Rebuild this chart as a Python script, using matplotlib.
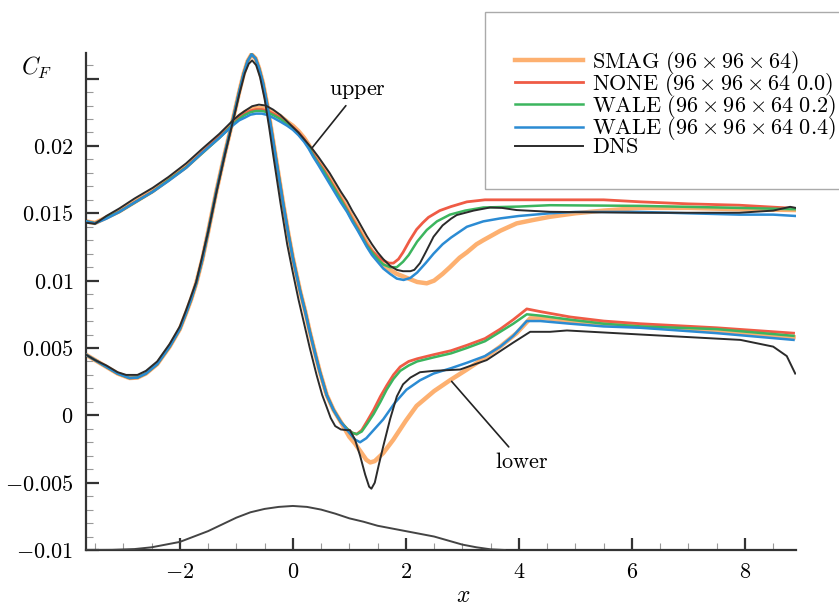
import matplotlib
matplotlib.use("Agg")
import matplotlib.pyplot as plt
from matplotlib.ticker import FixedLocator, FuncFormatter, MultipleLocator
from matplotlib.patches import Rectangle
from matplotlib.lines import Line2D

plt.rcParams['mathtext.fontset'] = 'cm'
plt.rcParams['font.size'] = 16

# ---- upper surface C_F ----
up_blue_x = [-3.66, -3.5, -3.3, -3.07, -2.8, -2.48, -2.2, -1.89, -1.6, -1.3, -1.06, -0.95, -0.85, -0.75,
             -0.65, -0.55, -0.45, -0.35, -0.22, -0.1, 0.0, 0.1, 0.2, 0.28, 0.36, 0.45, 0.55, 0.65, 0.75,
             0.85, 0.96, 1.05, 1.15, 1.23, 1.31, 1.4, 1.5, 1.6, 1.72, 1.84, 1.96, 2.08, 2.2, 2.35, 2.49,
             2.65, 2.8, 3.08, 3.37, 3.67, 4.0, 4.55, 5.0, 5.5, 6.15, 7.0, 7.9, 8.5, 8.9]
up_blue_y = [0.0144, 0.01425, 0.0146, 0.0151, 0.0158, 0.01659, 0.0174, 0.01837, 0.0195, 0.0206, 0.02153,
             0.0219, 0.0221, 0.02232, 0.0224, 0.0224, 0.0223, 0.0221, 0.0218, 0.0215, 0.0212, 0.0208,
             0.0203, 0.0198, 0.0192, 0.0186, 0.0179, 0.0172, 0.0165, 0.0158, 0.0151, 0.0144, 0.0137,
             0.0131, 0.0125, 0.0119, 0.0114, 0.0109, 0.0105, 0.01015, 0.01005, 0.0102, 0.0106, 0.0113,
             0.0120, 0.0127, 0.0132, 0.0140, 0.0144, 0.01462, 0.0148, 0.0150, 0.0151, 0.0151, 0.0151,
             0.0150, 0.0149, 0.0149, 0.0148]

up_smag_x = [-3.66, -3.5, -3.07, -2.48, -1.89, -1.3, -1.06, -0.95, -0.85, -0.75, -0.65, -0.55, -0.45,
             -0.35, -0.22, -0.1, 0.0, 0.1, 0.2, 0.28, 0.36, 0.45, 0.55, 0.65, 0.75, 0.85, 0.96, 1.05, 1.15,
             1.23, 1.31, 1.4, 1.5, 1.6, 1.72, 1.84, 1.96, 2.08, 2.2, 2.37, 2.5, 2.65, 2.78, 2.95, 3.08,
             3.25, 3.37, 3.67, 3.96, 4.25, 4.55, 5.0, 5.5, 6.15, 7.0, 7.9, 8.9]
up_smag_y = [0.0144, 0.01428, 0.01515, 0.01665, 0.01845, 0.0207, 0.0217, 0.0222, 0.0225, 0.0227, 0.0228,
             0.0228, 0.0227, 0.0225, 0.0222, 0.0218, 0.0215, 0.0211, 0.0206, 0.0201, 0.0195, 0.0189,
             0.0183, 0.0176, 0.0169, 0.0162, 0.0154, 0.0147, 0.0140, 0.0134, 0.0128, 0.0122, 0.0117,
             0.0112, 0.0108, 0.0105, 0.0103, 0.0101, 0.0099, 0.0098, 0.0100, 0.0105, 0.0110, 0.0117,
             0.0121, 0.0127, 0.0130, 0.0137, 0.01425, 0.0145, 0.01474, 0.0150, 0.0152, 0.0154, 0.0154,
             0.0153, 0.01524]

up_none_x = [-3.66, -3.5, -3.07, -2.48, -1.89, -1.3, -1.06, -0.95, -0.85, -0.75, -0.65, -0.55, -0.45,
             -0.35, -0.22, -0.1, 0.0, 0.1, 0.2, 0.28, 0.36, 0.45, 0.55, 0.65, 0.75, 0.85, 0.96, 1.05, 1.15,
             1.23, 1.31, 1.4, 1.5, 1.6, 1.7, 1.78, 1.87, 1.95, 2.07, 2.19, 2.3, 2.4, 2.6, 2.8, 3.08, 3.4,
             3.67, 4.55, 5.5, 6.15, 7.0, 7.9, 8.9]
up_none_y = [0.0144, 0.01427, 0.01512, 0.01662, 0.01842, 0.0207, 0.0216, 0.0221, 0.0224, 0.0226, 0.0227,
             0.0227, 0.0226, 0.0224, 0.0221, 0.0217, 0.0214, 0.0210, 0.0205, 0.0200, 0.0194, 0.0188,
             0.0182, 0.0175, 0.0168, 0.0161, 0.0153, 0.0146, 0.0139, 0.0133, 0.0127, 0.0122, 0.0118,
             0.0115, 0.0113, 0.0113, 0.0116, 0.0121, 0.0130, 0.0138, 0.0143, 0.0147, 0.0152, 0.0155,
             0.01585, 0.0160, 0.0160, 0.0160, 0.0160, 0.01585, 0.0157, 0.0156, 0.01536]

up_wale2_x = [-3.66, -3.5, -3.07, -2.48, -1.89, -1.3, -1.06, -0.95, -0.85, -0.75, -0.65, -0.55, -0.45,
              -0.35, -0.22, -0.1, 0.0, 0.1, 0.2, 0.28, 0.36, 0.45, 0.55, 0.65, 0.75, 0.85, 0.96, 1.05,
              1.15, 1.23, 1.31, 1.4, 1.5, 1.6, 1.72, 1.84, 1.95, 2.05, 2.2, 2.37, 2.55, 2.78, 3.05, 3.37,
              4.0, 4.55, 6.15, 7.9, 8.9]
up_wale2_y = [0.0144, 0.01426, 0.01511, 0.0166, 0.0184, 0.0206, 0.0216, 0.0220, 0.0223, 0.0225, 0.0226,
              0.0226, 0.0225, 0.0223, 0.0220, 0.0216, 0.0213, 0.0209, 0.0204, 0.0199, 0.0193, 0.0187,
              0.0181, 0.0174, 0.0167, 0.0160, 0.0152, 0.0145, 0.0138, 0.0132, 0.0126, 0.0121, 0.0116,
              0.0112, 0.0110, 0.0110, 0.0114, 0.0119, 0.0129, 0.01376, 0.0144, 0.0149, 0.0152, 0.01543,
              0.0155, 0.0156, 0.01555, 0.0154, 0.0153]

up_dns_x = [-3.66, -3.5, -3.3, -3.07, -2.8, -2.48, -2.2, -1.89, -1.6, -1.3, -1.06, -0.95, -0.85, -0.72,
            -0.6, -0.48, -0.35, -0.22, -0.12, 0.0, 0.1, 0.2, 0.28, 0.36, 0.45, 0.55, 0.65, 0.75, 0.85,
            0.96, 1.05, 1.15, 1.23, 1.31, 1.4, 1.5, 1.6, 1.72, 1.84, 1.95, 2.08, 2.15, 2.25, 2.35, 2.49,
            2.65, 2.8, 2.9, 3.2, 3.49, 3.7, 3.96, 4.55, 6.15, 7.9, 8.5, 8.8, 8.9]
up_dns_y = [0.0143, 0.01422, 0.0148, 0.01536, 0.0161, 0.01689, 0.0177, 0.0187, 0.0198, 0.0209, 0.0219,
            0.0223, 0.0226, 0.02295, 0.02307, 0.0230, 0.0227, 0.0223, 0.0219, 0.0214, 0.0210, 0.0205,
            0.0201, 0.0197, 0.0192, 0.0186, 0.0180, 0.0173, 0.0166, 0.0159, 0.0152, 0.0145, 0.0139,
            0.0133, 0.0127, 0.0121, 0.0116, 0.0111, 0.0108, 0.0107, 0.0107, 0.0108, 0.0113, 0.0121,
            0.01326, 0.0141, 0.0146, 0.01487, 0.0152, 0.01543, 0.0154, 0.01524, 0.01511, 0.01504,
            0.01504, 0.0152, 0.01548, 0.0154]

# ---- lower surface C_F (shared front part, then each model) ----
lo_base_x = [-3.66, -3.5, -3.3, -3.1, -2.89, -2.75, -2.6, -2.4, -2.18, -2.0, -1.89, -1.8, -1.71, -1.6,
             -1.5, -1.35, -1.2, -1.05, -0.95, -0.87, -0.8, -0.73, -0.66, -0.6, -0.53, -0.46, -0.38, -0.3,
             -0.17, -0.08, 0.0, 0.13, 0.22, 0.3, 0.4, 0.48, 0.6, 0.72, 0.85, 0.96]
lo_base_y = [0.0045, 0.0041, 0.0036, 0.0031, 0.00277, 0.0028, 0.0031, 0.0038, 0.0051, 0.0064, 0.00758,
             0.0086, 0.0098, 0.0116, 0.0136, 0.0167, 0.0195, 0.02215, 0.0240, 0.02536, 0.0263, 0.0268,
             0.0265, 0.0258, 0.0247, 0.0232, 0.0212, 0.0191, 0.0157, 0.0135, 0.0117, 0.0092, 0.0077,
             0.0062, 0.0045, 0.0032, 0.0015, 0.0004, -0.0005, -0.0010]

lo_none_x = lo_base_x + [1.05, 1.13, 1.22, 1.32, 1.43, 1.55, 1.66, 1.78, 1.9, 2.05, 2.2, 2.49, 2.8, 3.08,
                         3.4, 3.67, 3.9, 4.14, 4.38, 4.91, 5.5, 6.15, 7.5, 8.86]
lo_none_y = lo_base_y + [-0.0013, -0.0014, -0.0011, -0.0004, 0.0004, 0.0014, 0.0022, 0.0030, 0.0036,
                         0.0040, 0.0042, 0.0045, 0.0048, 0.0052, 0.0057, 0.0064, 0.0071, 0.0079, 0.0077,
                         0.0073, 0.0070, 0.0068, 0.0065, 0.0061]

lo_wale2_x = lo_base_x + [1.05, 1.13, 1.22, 1.32, 1.43, 1.55, 1.66, 1.78, 1.9, 2.05, 2.2, 2.49, 2.8, 3.08,
                          3.4, 3.67, 3.9, 4.14, 4.38, 4.91, 5.5, 6.15, 7.5, 8.86]
lo_wale2_y = lo_base_y + [-0.0013, -0.0014, -0.0012, -0.0006, 0.0001, 0.0010, 0.0019, 0.0027, 0.0033,
                          0.0037, 0.0040, 0.0043, 0.0046, 0.0050, 0.0055, 0.0062, 0.0068, 0.0075, 0.0074,
                          0.0071, 0.0068, 0.0066, 0.0064, 0.0059]

lo_wale4_x = lo_base_x[:-1] + [1.0, 1.1, 1.19, 1.3, 1.45, 1.6, 1.8, 2.01, 2.25, 2.49, 2.8, 3.08, 3.4, 3.67,
                               3.9, 4.14, 4.38, 4.91, 5.5, 6.15, 7.5, 8.86]
lo_wale4_y = lo_base_y[:-1] + [-0.0013, -0.0018, -0.0020, -0.0017, -0.0010, -0.0003, 0.0009, 0.0019,
                               0.0026, 0.0031, 0.0035, 0.0039, 0.0044, 0.0051, 0.0059, 0.0070, 0.0070,
                               0.0068, 0.0066, 0.0065, 0.0061, 0.0056]

lo_smag_x = lo_base_x[:-1] + [1.0, 1.1, 1.2, 1.3, 1.37, 1.45, 1.6, 1.78, 2.0, 2.19, 2.5, 2.78, 3.08, 3.37,
                              3.67, 3.96, 4.2, 4.5, 4.91, 5.5, 6.15, 7.5, 8.86]
lo_smag_y = lo_base_y[:-1] + [-0.0016, -0.0021, -0.0027, -0.0033, -0.0035, -0.0034, -0.0028, -0.0018,
                              -0.0004, 0.0007, 0.0018, 0.0026, 0.0034, 0.0042, 0.0051, 0.0061, 0.0072,
                              0.0072, 0.0070, 0.0068, 0.0066, 0.0063, 0.0058]

lo_dns_x = [-3.66, -3.5, -3.3, -3.1, -2.95, -2.75, -2.6, -2.4, -2.18, -2.0, -1.89, -1.71, -1.5, -1.35,
            -1.2, -1.05, -0.95, -0.85, -0.78, -0.72, -0.65, -0.58, -0.5, -0.42, -0.35, -0.22, -0.1, 0.0,
            0.1, 0.2, 0.3, 0.42, 0.52, 0.6, 0.67, 0.75, 0.85, 0.95, 1.01, 1.1, 1.19, 1.28, 1.35, 1.39,
            1.45, 1.52, 1.6, 1.72, 1.84, 1.95, 2.08, 2.25, 2.49, 2.96, 3.43, 3.9, 4.2, 4.55, 4.85, 6.15,
            7.92, 8.5, 8.74, 8.89]
lo_dns_y = [0.0045, 0.0041, 0.0037, 0.0032, 0.0030, 0.0030, 0.0033, 0.0040, 0.0053, 0.0066, 0.0078,
            0.0099, 0.0136, 0.0166, 0.0194, 0.0220, 0.0238, 0.0254, 0.0261, 0.02635, 0.0260, 0.0251,
            0.0235, 0.0214, 0.0194, 0.0158, 0.0127, 0.0106, 0.0086, 0.0068, 0.0050, 0.0030, 0.0015,
            0.0006, -0.0002, -0.0008, -0.00105, -0.0011, -0.0011, -0.0018, -0.0030, -0.0044, -0.0053,
            -0.00545, -0.0050, -0.0037, -0.0023, -0.0003, 0.0014, 0.0023, 0.0028, 0.0032, 0.0033,
            0.0034, 0.0041, 0.0054, 0.0062, 0.0062, 0.0063, 0.0060, 0.0056, 0.0051, 0.0044, 0.0031]

# ---- hill outline ----
hill_x = [-3.66, -3.2, -2.8, -2.5, -2.25, -2.0, -1.75, -1.5, -1.25, -1.0, -0.75, -0.5, -0.25, 0.0, 0.25,
          0.5, 0.75, 1.0, 1.25, 1.5, 1.75, 2.0, 2.25, 2.5, 2.75, 3.0, 3.25, 3.5, 3.75]
hill_y = [-0.01, -0.00999, -0.00993, -0.0098, -0.0096, -0.0094, -0.0090, -0.0086, -0.0081, -0.0076,
          -0.0072, -0.00695, -0.0068, -0.00673, -0.0068, -0.0070, -0.0073, -0.00765, -0.0079, -0.0082,
          -0.0084, -0.0086, -0.0088, -0.0090, -0.0093, -0.0096, -0.0098, -0.00995, -0.01]

labels = [r'$\mathrm{SMAG}\ (96\times96\times64)$',
          r'$\mathrm{NONE}\ (96\times96\times64\ 0.0)$',
          r'$\mathrm{WALE}\ (96\times96\times64\ 0.2)$',
          r'$\mathrm{WALE}\ (96\times96\times64\ 0.4)$',
          r'$\mathrm{DNS}$']
colors = ['#fdb070', '#ef5b45', '#3cb55e', '#2b8bd3', '#2b2b2b']
widths = [3.2, 2.0, 1.8, 1.8, 1.4]

fig = plt.figure(figsize=(8.39, 6.08), dpi=100)
ax = fig.add_axes([0.1025, 0.0954, 0.846, 0.8174])

ax.plot(up_smag_x, up_smag_y, color=colors[0], lw=widths[0], zorder=2)
ax.plot(lo_smag_x, lo_smag_y, color=colors[0], lw=widths[0], zorder=2)
ax.plot(up_none_x, up_none_y, color=colors[1], lw=widths[1], zorder=3)
ax.plot(lo_none_x, lo_none_y, color=colors[1], lw=widths[1], zorder=3)
ax.plot(up_wale2_x, up_wale2_y, color=colors[2], lw=widths[2], zorder=4)
ax.plot(lo_wale2_x, lo_wale2_y, color=colors[2], lw=widths[2], zorder=4)
ax.plot(up_blue_x, up_blue_y, color=colors[3], lw=widths[3], zorder=5)
ax.plot(lo_wale4_x, lo_wale4_y, color=colors[3], lw=widths[3], zorder=5)
ax.plot(up_dns_x, up_dns_y, color=colors[4], lw=widths[4], zorder=6)
ax.plot(lo_dns_x, lo_dns_y, color=colors[4], lw=widths[4], zorder=6)
ax.plot(hill_x, hill_y, color='#444444', lw=1.4, zorder=6)

ax.set_xlim(-3.66, 8.9)
ax.set_ylim(-0.01, 0.0269)

for s in ['top', 'right']:
    ax.spines[s].set_visible(False)
for s in ['left', 'bottom']:
    ax.spines[s].set_linewidth(1.6)
    ax.spines[s].set_color('#333333')

ax.xaxis.set_major_locator(FixedLocator([-2, 0, 2, 4, 6, 8]))
ax.xaxis.set_minor_locator(MultipleLocator(0.5))
ax.xaxis.set_major_formatter(FuncFormatter(lambda v, p: '$%g$' % round(v, 4)))
ax.yaxis.set_major_locator(FixedLocator([-0.01, -0.005, 0, 0.005, 0.01, 0.015, 0.02, 0.025]))
ax.yaxis.set_minor_locator(MultipleLocator(0.001))
ax.yaxis.set_major_formatter(FuncFormatter(lambda v, p: '' if v > 0.021 else '$%g$' % round(v, 4)))
ax.tick_params(which='major', direction='in', length=9, width=1.6, color='#333333', labelsize=16, pad=9)
ax.tick_params(which='minor', direction='in', length=5, width=0.8, color='#999999')

ax.annotate(r'$\mathrm{upper}$', xy=(0.33, 0.0198), xytext=(1.15, 0.0241), ha='center', va='center',
            fontsize=16, arrowprops=dict(arrowstyle='-', color='#222222', lw=1.2, shrinkA=2, shrinkB=0))
ax.annotate(r'$\mathrm{lower}$', xy=(2.81, 0.00252), xytext=(4.05, -0.00345), ha='center', va='center',
            fontsize=16, arrowprops=dict(arrowstyle='-', color='#222222', lw=1.2, shrinkA=2, shrinkB=0))

fig.text(0.044, 0.888, r'$C_F$', ha='center', va='center', fontsize=17)
fig.text(0.552, 0.022, r'$x$', ha='center', va='center', fontsize=17)

handles = [Line2D([], [], color=c, lw=w) for c, w in zip(colors, widths)]
fig.legend(handles, labels, loc='upper left', bbox_to_anchor=(515 / 839, 1 - 49 / 608), frameon=False,
           borderpad=0, borderaxespad=0, handlelength=3.06, handletextpad=0.4, labelspacing=-0.22,
           fontsize=16)
fig.patches.append(Rectangle((485 / 839, 1 - 189 / 608), 0.5, 177 / 608, transform=fig.transFigure,
                             fill=False, edgecolor='#aaaaaa', lw=1.0))

fig.savefig('out.png', dpi=100)
